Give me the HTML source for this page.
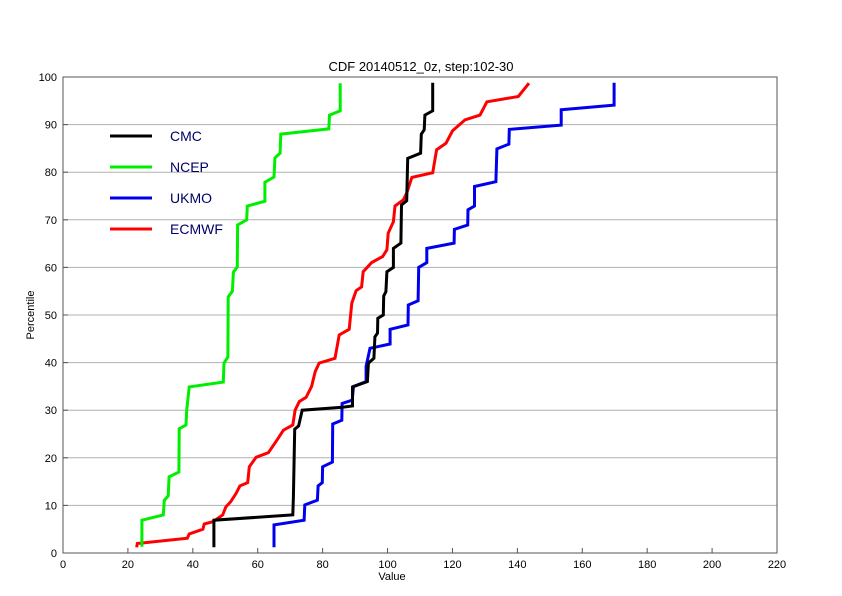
<!DOCTYPE html>
<html><head><meta charset="utf-8"><style>
body{margin:0;background:#fff}
svg{display:block;font-family:"Liberation Sans",sans-serif}
</style></head><body>
<svg id="chart" width="842" height="596" viewBox="0 0 842 596">
<rect width="842" height="596" fill="#fff"/>
<text x="421" y="71" font-size="13" text-anchor="middle">CDF 20140512_0z, step:102-30</text>
<g id="grid"></g>
<g id="series"></g>
<rect x="63" y="77" width="714" height="476" fill="none" stroke="#555" stroke-width="1"/>
<g id="axes"></g>
<text x="392" y="580" font-size="11" text-anchor="middle">Value</text>
<text x="34" y="315" font-size="11" text-anchor="middle" transform="rotate(-90 34 315)">Percentile</text>
<g id="legend"></g>
</svg>
<script>
const xTicks=[0,20,40,60,80,100,120,140,160,180,200,220];
const yTicks=[0,10,20,30,40,50,60,70,80,90,100];
const seriesNames=["CMC","NCEP","UKMO","ECMWF"];
const seriesColors=["#000","#00ee00","#0000ee","#ff0000"];
const cmcV=[46.5,46.5,70.8,71.0,71.4,72.6,73.7,86.1,89.2,89.2,93.8,94.1,95.8,96.1,96.9,97.0,98.7,98.8,99.5,99.8,101.8,101.8,104.1,104.3,105.9,106.2,110.2,110.4,111.3,111.5,113.9,113.9];
const cmcP=[1.2,6.9,8.0,11.8,26.0,26.7,30.0,30.6,30.9,34.9,36.0,39.9,40.9,45.4,46.2,49.3,50.0,54.0,54.9,59.1,60.0,64.0,65.1,73.1,74.0,82.9,84.0,88.0,88.9,92.0,92.9,98.8];
const ncepV=[24.3,24.3,30.9,31.2,32.4,32.7,35.7,35.8,37.9,38.1,38.9,49.4,49.6,50.8,50.9,52.2,52.5,53.7,53.8,56.6,56.8,62.2,62.2,65.0,65.3,66.9,67.1,81.9,82.1,85.4,85.4];
const ncepP=[1.3,6.9,8.0,11.1,12.0,16.0,17.0,26.1,26.9,30.0,34.9,35.9,39.9,41.2,53.8,55.0,59.0,60.1,68.9,70.0,72.9,73.9,77.9,79.0,83.0,84.0,88.0,89.1,92.0,92.9,98.7];
const ukmoV=[65.0,65.0,74.3,74.5,78.4,78.6,79.9,80.0,83.0,83.1,85.9,86.0,89.1,89.5,93.4,93.4,94.6,100.8,100.8,106.3,106.4,109.4,109.6,112.1,112.1,120.5,120.6,124.7,124.8,126.8,126.8,133.4,133.7,137.4,137.5,153.5,153.5,169.8,169.8];
const ukmoP=[1.2,5.9,6.9,10.1,11.1,14.1,14.8,18.1,19.1,27.1,27.9,31.4,32.1,35.0,36.0,39.2,43.0,43.9,47.0,47.9,52.1,53.0,60.0,61.0,64.0,65.1,68.0,68.9,72.1,72.9,77.0,78.0,84.9,85.9,89.0,89.9,93.1,94.1,98.8];
const ecmwfV=[22.7,22.9,38.3,38.9,43.1,43.5,46.3,49.2,50.2,51.7,53.3,54.5,56.9,57.4,59.5,63.3,65.9,67.9,70.8,71.5,72.8,74.9,76.6,77.7,78.9,83.8,85.1,88.2,89.0,90.3,92.0,92.5,95.1,98.5,99.8,100.2,101.8,102.3,104.9,105.9,107.5,113.9,115.1,118.0,120.0,123.9,128.5,130.6,140.3,143.6];
const ecmwfP=[1.2,2.0,3.1,4.0,5.0,6.1,6.6,8.0,9.7,10.8,12.5,14.1,14.8,18.1,20.1,21.1,23.7,25.8,26.9,30.0,31.8,32.7,35.0,38.1,39.9,40.9,45.8,47.0,52.5,55.1,55.9,59.1,61.0,62.3,63.7,67.2,69.6,72.9,74.2,75.6,78.9,79.9,84.7,86.1,88.7,91.0,92.0,94.8,95.9,98.7];
const NS="http://www.w3.org/2000/svg";
const X0=63,X1=777,Y0=553,Y1=77;
function sx(v){return X0+(v-0)/(220-0)*(X1-X0);}
function sy(p){return Y0-(p-0)/(100-0)*(Y0-Y1);}
function mk(tag,attrs,parent){const e=document.createElementNS(NS,tag);for(const k in attrs)e.setAttribute(k,attrs[k]);parent.appendChild(e);return e;}
const grid=document.getElementById('grid'),axes=document.getElementById('axes'),ser=document.getElementById('series'),leg=document.getElementById('legend');
yTicks.forEach(t=>{
  if(t>0&&t<100){const l=mk('line',{x1:X0,x2:X1,y1:sy(t),y2:sy(t),stroke:'#b0b0b0','stroke-width':1},grid);
  
  }
  const tk=mk('line',{x1:X0,x2:X0+5,y1:sy(t),y2:sy(t),stroke:'#555'},axes);
  
  
  const tx=mk('text',{x:X0-6,y:sy(t)+4,'font-size':11,'text-anchor':'end'},axes);
  
  
  tx.textContent=t;
});
xTicks.forEach(t=>{
  const tk=mk('line',{x1:sx(t),x2:sx(t),y1:Y0,y2:Y0-5,stroke:'#555'},axes);
  
  
  const tx=mk('text',{x:sx(t),y:Y0+15,'font-size':11,'text-anchor':'middle'},axes);
  
  
  tx.textContent=t;
});
const allV=[cmcV,ncepV,ukmoV,ecmwfV],allP=[cmcP,ncepP,ukmoP,ecmwfP];
const order=[2,3,1,0];
order.forEach(i=>{
  const pts=allV[i].map((v,j)=>sx(v).toFixed(1)+','+sy(allP[i][j]).toFixed(1)).join(' ');
  const pl=mk('polyline',{points:pts,fill:'none',stroke:seriesColors[i],'stroke-width':3,'stroke-linejoin':'miter'},ser);
  
  
});
seriesNames.forEach((n,i)=>{
  const y=136+i*31;
  const g=mk('g',{},leg);
  
  
  mk('line',{x1:110,x2:152,y1:y,y2:y,stroke:seriesColors[i],'stroke-width':3},g);
  const t=mk('text',{x:170,y:y+5,'font-size':14,fill:'#000066'},g);
  t.textContent=n;
});
</script>
</body></html>
